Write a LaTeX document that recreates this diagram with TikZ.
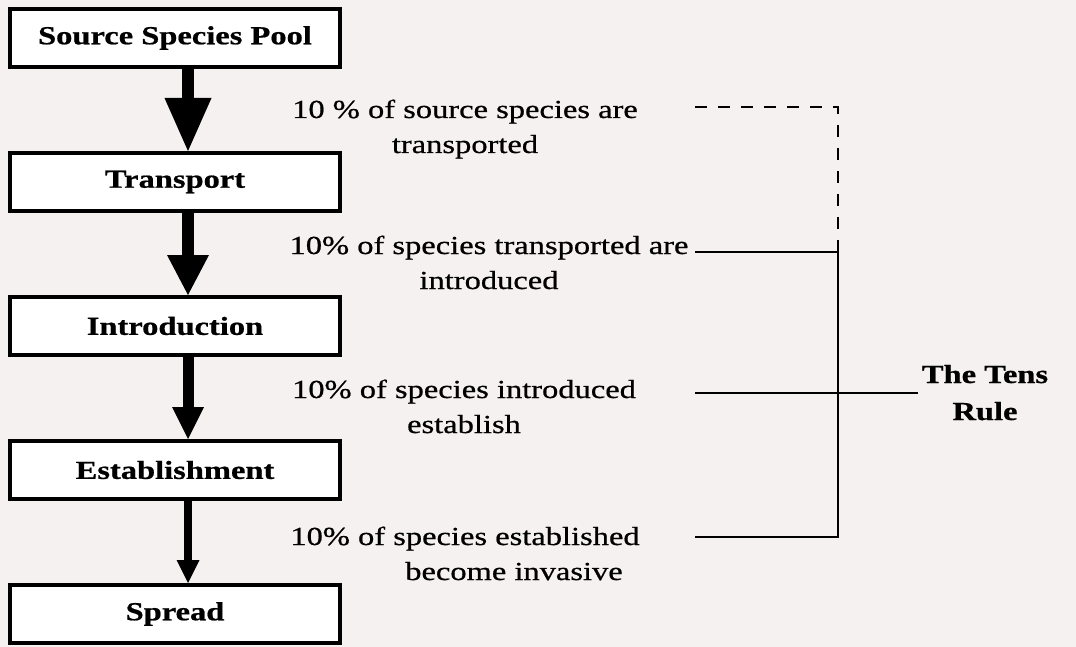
\documentclass[tikz,border=0pt]{standalone}
\usepackage{fontspec}
\setmainfont{Liberation Serif}[FakeStretch=1.25, FakeBold=0.7]
\usepackage{tikz}
\usetikzlibrary{arrows.meta, positioning, calc}
\definecolor{paper}{RGB}{246,241,241}

\begin{document}
\begin{tikzpicture}[x=1pt, y=-1pt,
    stagebox/.style={draw, line width=4pt, fill=white, minimum width=330pt, minimum height=58pt, inner sep=0pt, font=\fontsize{26}{35}\selectfont\bfseries},
    ratenote/.style={align=center, anchor=base, font=\fontsize{26}{35}\selectfont},
    tenslink/.style={line width=2.5pt}]
        \fill[paper] (0,0) rectangle (1076,647);
        \useasboundingbox (0,0) rectangle (1076,647);

        % Stages
        \node[stagebox] (src) at (175,38) {Source Species Pool};
        \node[stagebox, below=82pt of src] (trn) {Transport};
        \node[stagebox, below=82pt of trn] (intr) {Introduction};
        \node[stagebox, below=82pt of intr] (est) {Establishment};
        \node[stagebox, below=82pt of est] (spr) {Spread};
        \foreach \a/\b/\w/\hw/\hl in {src/trn/12/47/53,trn/intr/12/42/40,intr/est/11/32/32,est/spr/8/23/23} {
            \draw[line width=\w pt, -{Triangle[width=\hw pt, length=\hl pt, line width=0pt]}] ([xshift=13pt]\a.south) -- ([xshift=13pt]\b.north);
        }

        % Rates (base = last line)
        \node[ratenote] (r1) at (465,153) {10 \% of source species are\\transported};
        \node[ratenote] (r2) at (489,289) {10\% of species transported are\\introduced};
        \node[ratenote] (r3) at (464,433) {10\% of species introduced\\establish};
        \node[ratenote] (r4) at (465,580) {10\% of species established\\\hspace*{98pt}become invasive};

        % The tens rule bracket
        \node[align=center, anchor=base, font=\fontsize{26}{37}\selectfont\bfseries] (tens) at (985,420) {The Tens\\Rule};
        \coordinate (d1) at (695,107);
        \coordinate (d2) at (695,252);
        \coordinate (d3) at (695,393);
        \coordinate (d4) at (695,537);
        \coordinate (brk) at (838,107);
        \draw[tenslink, dash pattern=on 12pt off 11pt] (d1) -- (brk) -- (d2 -| brk);
        \draw[tenslink] (d2) -- (d2 -| brk) -- (d4 -| brk) -- (d4);
        \draw[tenslink] (d3) -- (d3 -| tens.west);
\end{tikzpicture}
\end{document}
